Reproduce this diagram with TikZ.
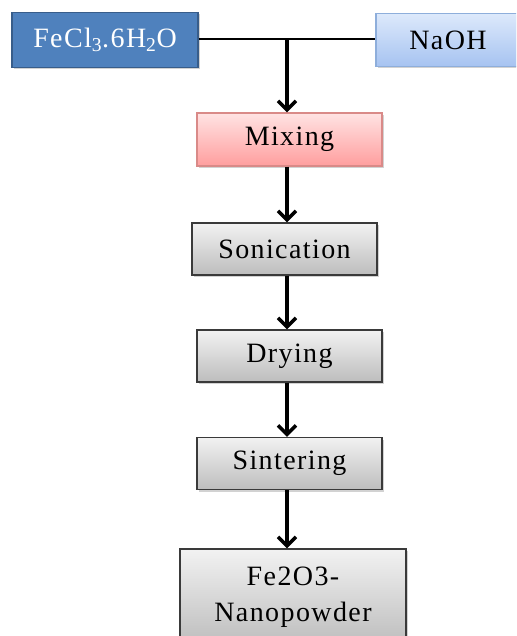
\documentclass[tikz,border=0pt]{standalone}
\usepackage{fontspec}
\setmainfont{Liberation Serif}[LetterSpace=5]
\usetikzlibrary{arrows.meta,shadows}
\definecolor{feblue}{HTML}{4F81BD}
\definecolor{feborder}{HTML}{385D8A}
\definecolor{natop}{HTML}{DDE9FB}
\definecolor{nabot}{HTML}{A6C3F1}
\definecolor{naborder}{HTML}{8EAEDB}
\definecolor{mixtop}{HTML}{FFE3E3}
\definecolor{mixbot}{HTML}{FF9E9E}
\definecolor{mixborder}{HTML}{D98A88}
\definecolor{graytop}{HTML}{F2F2F2}
\definecolor{graybot}{HTML}{BDBDBD}
\definecolor{grayborder}{HTML}{3A3A3A}
\tikzset{
  boxbase/.style={rectangle, inner sep=0pt, line width=1.2pt,
    font=\fontsize{28}{36}\selectfont,
    drop shadow={opacity=0.35, shadow xshift=1.5pt, shadow yshift=-2pt}},
  graybox/.style={boxbase, draw=grayborder, top color=graytop, bottom color=graybot,
    minimum width=185pt, minimum height=52pt},
  mixbox/.style={boxbase, draw=mixborder, top color=mixtop, bottom color=mixbot,
    minimum width=185pt, minimum height=53pt},
  febox/.style={boxbase, draw=feborder, fill=feblue, text=white,
    minimum width=186pt, minimum height=55pt},
  nabox/.style={boxbase, draw=naborder, top color=natop, bottom color=nabot,
    minimum width=144pt, minimum height=53pt},
  flow/.style={line width=3.5pt, -{Straight Barb[length=9pt,width=18pt]}},
  joinline/.style={line width=2pt}
}
\begin{document}
\begin{tikzpicture}[x=1pt,y=-1pt]
\clip (0,0) rectangle (516,636);
\fill[white] (0,0) rectangle (516,636);
\node[febox] (fe) at (105,40) {FeCl\textsubscript{3}.6H\textsubscript{2}O};
\node[nabox] (na) at (448,40) {NaOH};
\coordinate (j) at (287,39);
\node[mixbox] (mix) at (289.5,139.5) {Mixing};
\node[graybox] (son) at (284.5,249) {Sonication};
\node[graybox] (dry) at (289.5,356) {Drying};
\node[graybox] (sin) at (289.5,463.5) {Sintering};
\node[graybox, minimum width=226pt, minimum height=96pt, align=center] (pow) at (293,597) {Fe2O3-\\Nanopowder};
\draw[joinline] (fe.east |- j) -- (na.west |- j);
\draw[flow] (j) -- (j |- mix.north);
\draw[flow] (mix.south -| j) -- (son.north -| j);
\draw[flow] (son.south -| j) -- (dry.north -| j);
\draw[flow] (dry.south -| j) -- (sin.north -| j);
\draw[flow] (sin.south -| j) -- (pow.north -| j);
\end{tikzpicture}
\end{document}
